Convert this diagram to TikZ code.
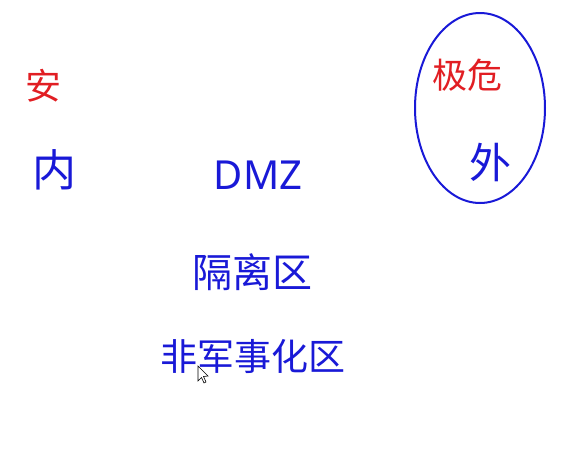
\documentclass[tikz,border=0pt]{standalone}
\usepackage{fontspec}
\setmainfont{Noto Sans CJK SC}
\newfontfamily\latinfont{Noto Sans}
\definecolor{penred}{RGB}{225,30,35}
\definecolor{penblue}{RGB}{25,25,215}
\begin{document}
\begin{tikzpicture}[x=1pt, y=-1pt, every node/.style={inner sep=0pt}]
  \useasboundingbox (0,0) rectangle (574,459);
  % inside
  \node[text=penred, font=\fontsize{36}{36}\selectfont] (an) at (43,86) {安};
  \node[text=penblue, font=\fontsize{44}{44}\selectfont] (nei) at (54,170) {内};
  % middle zone
  \node[text=penblue, font=\latinfont\fontsize{40}{40}\selectfont] (dmz) at (258,175) {DMZ};
  \node[text=penblue, font=\fontsize{40}{40}\selectfont] (gelq) at (252,272) {隔离区};
  \node[text=penblue, font=\fontsize{37}{37}\selectfont] (fjsh) at (253,356) {非军事化区};
  % outside
  \draw[penblue, line width=2pt] (480,108) ellipse (65 and 95);
  \node[text=penred, font=\fontsize{35}{35}\selectfont] (jiwei) at (467,75) {极危};
  \node[text=penblue, font=\fontsize{42}{42}\selectfont] (wai) at (490,162) {外};
  % cursor
  \draw[fill=white, line width=0.6pt] (198,366) -- (198,381) -- (201.5,377.5) -- (204,383) -- (206,382) -- (203.5,376.5) -- (208,376) -- cycle;
\end{tikzpicture}
\end{document}
